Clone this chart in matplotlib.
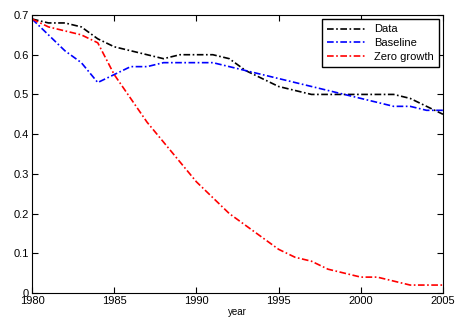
import matplotlib
matplotlib.use('Agg')
import matplotlib.pyplot as plt

plt.rcParams['font.family'] = ['Liberation Sans', 'DejaVu Sans']

years = list(range(1980, 2006))
data = [0.69, 0.68, 0.68, 0.67, 0.64, 0.62, 0.61, 0.60, 0.59, 0.60, 0.60, 0.60, 0.59,
        0.56, 0.54, 0.52, 0.51, 0.50, 0.50, 0.50, 0.50, 0.50, 0.50, 0.49, 0.47, 0.45]
baseline = [0.69, 0.65, 0.61, 0.58, 0.53, 0.55, 0.57, 0.57, 0.58, 0.58, 0.58, 0.58, 0.57,
            0.56, 0.55, 0.54, 0.53, 0.52, 0.51, 0.50, 0.49, 0.48, 0.47, 0.47, 0.46, 0.46]
zero_growth = [0.69, 0.67, 0.66, 0.65, 0.63, 0.55, 0.49, 0.43, 0.38, 0.33, 0.28, 0.24, 0.20,
               0.17, 0.14, 0.11, 0.09, 0.08, 0.06, 0.05, 0.04, 0.04, 0.03, 0.02, 0.02, 0.02]

fig = plt.figure(figsize=(4.56, 3.2), dpi=100)
ax = fig.add_axes([32/456, 27/320, 411/456, 278/320])

dash = (0, (4, 1.5, 1, 1.5))
ax.plot(years, data, color='k', linestyle=dash, lw=1.2, label='Data')
ax.plot(years, baseline, color='b', linestyle=dash, lw=1.2, label='Baseline')
ax.plot(years, zero_growth, color='r', linestyle=dash, lw=1.2, label='Zero growth')

ax.set_xlim(1980, 2005)
ax.set_ylim(0, 0.7)
ax.set_xticks([1980, 1985, 1990, 1995, 2000, 2005])
ax.set_yticks([0, 0.1, 0.2, 0.3, 0.4, 0.5, 0.6, 0.7])
ax.set_yticklabels(['0', '0.1', '0.2', '0.3', '0.4', '0.5', '0.6', '0.7'])
ax.tick_params(direction='in', top=True, right=True, labelsize=8, length=4, pad=2)
ax.set_xlabel('year', fontsize=7, labelpad=1)

leg = ax.legend(loc='upper right', fontsize=8, fancybox=False, framealpha=1,
                edgecolor='k', handlelength=3.4, borderaxespad=0.4, labelspacing=0.35,
                borderpad=0.45)
leg.get_frame().set_linewidth(1.0)

fig.savefig('out.png', dpi=100)
